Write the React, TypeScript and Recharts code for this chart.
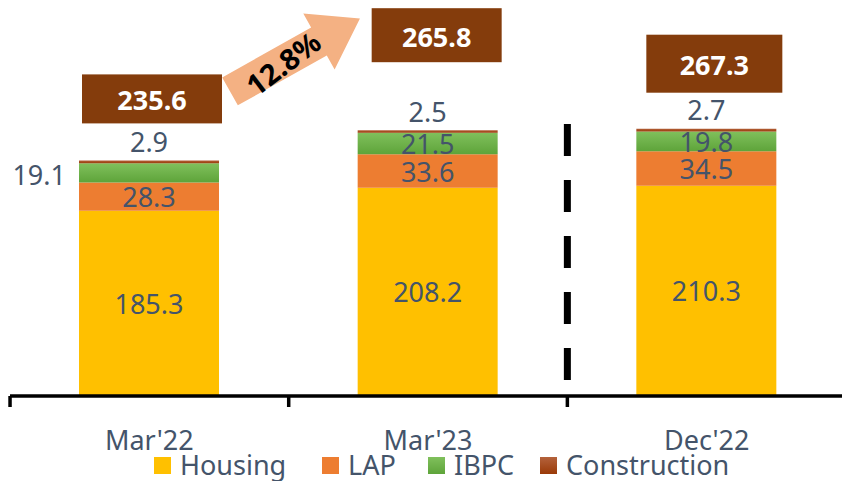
import React from "react";
import { BarChart, Bar, XAxis, YAxis, LabelList, Legend, ReferenceLine } from "recharts";

if (typeof document !== "undefined") {
  document.body.style.margin = "0";
}

const categories = ["Mar'22", "Mar'23", "Dec'22"];
const housing = [185.3, 208.2, 210.3];
const lap = [28.3, 33.6, 34.5];
const ibpc = [19.1, 21.5, 19.8];
const construction = [2.9, 2.5, 2.7];
const totals = [235.6, 265.8, 267.3];
const growthLabel = "12.8%";
const seriesNames = ["Housing", "LAP", "IBPC", "Construction"];

const data = categories.map((c, i) => ({
  name: c,
  housing: housing[i],
  lap: lap[i],
  ibpc: ibpc[i],
  construction: construction[i],
  total: totals[i],
}));

const FONT = "'Noto Sans', 'Open Sans', sans-serif";
const TEXT = "#44546A";
const BOX = "#843C0C";
const FS = 27;

// box placement styles per category (relative to bar top)
const boxStyle = [
  { dx: 3, gap: 37, w: 140, h: 49 },
  { dx: 9, gap: 68, w: 130, h: 54 },
  { dx: 8, gap: 36, w: 136, h: 58 },
];

const ConstructionLabel = (props: any) => {
  const { x, y, width, index, value } = props;
  const cx = x + width / 2;
  const s = boxStyle[index];
  const bx = cx + s.dx - s.w / 2;
  const by = y - s.gap - s.h;
  return (
    <g>
      <text x={cx} y={y - 19} textAnchor="middle" dominantBaseline="central" fill={TEXT} fontSize={FS} fontFamily={FONT}>
        {value}
      </text>
      <rect x={bx} y={by} width={s.w} height={s.h} fill={BOX} />
      <text x={bx + s.w / 2} y={by + s.h / 2 + 1} textAnchor="middle" dominantBaseline="central" fill="#fff" fontSize={FS} fontWeight={700} fontFamily={FONT}>
        {totals[index]}
      </text>
      {index === 0 && (
        <g transform={`translate(${bx + s.w + 8},${by + 17}) rotate(-29.3)`}>
          <polygon points="0,-16 102,-16 102,-32 149,0 102,32 102,16 0,16" fill="#F4B183" />
          <text
            x={60}
            y={1}
            transform="rotate(-8 60 1)"
            textAnchor="middle"
            dominantBaseline="central"
            fill="#000"
            fontSize={29}
            fontWeight={700}
            fontFamily={FONT}
          >
            {growthLabel}
          </text>
        </g>
      )}
    </g>
  );
};

const IbpcLabel = (props: any) => {
  const { x, y, width, height, index, value } = props;
  const cy = y + height / 2;
  if (index === 0) {
    return (
      <text x={x - 13} y={cy + 2} textAnchor="end" dominantBaseline="central" fill={TEXT} fontSize={FS} fontFamily={FONT}>
        {value}
      </text>
    );
  }
  return (
    <text x={x + width / 2} y={cy} textAnchor="middle" dominantBaseline="central" fill={TEXT} fontSize={FS} fontFamily={FONT}>
      {value}
    </text>
  );
};

const CenterLabel = (props: any) => {
  const { x, y, width, height, value } = props;
  return (
    <text x={x + width / 2} y={y + height / 2} textAnchor="middle" dominantBaseline="central" fill={TEXT} fontSize={FS} fontFamily={FONT}>
      {value}
    </text>
  );
};

const HALF_BAND = 139.3;

const AxisTick = (props: any) => {
  const { x, y, payload } = props;
  return (
    <g>
      <line x1={x - HALF_BAND} x2={x - HALF_BAND} y1={y} y2={y + 11} stroke="#000" strokeWidth={3.5} />
      <text x={x} y={y + 43} textAnchor="middle" dominantBaseline="central" fill={TEXT} fontSize={FS} fontFamily={FONT}>
        {payload.value}
      </text>
    </g>
  );
};

const legendColors = ["#FFC000", "#ED7D31", "url(#gIbpc)", "url(#gCons)"];
const legendSwatch = [
  "#FFC000",
  "#ED7D31",
  "linear-gradient(#80C05C, #5EA43A)",
  "linear-gradient(#B4623C, #9A3A08)",
];
const legendLeft = [154, 322, 428, 540];

const LegendContent = () => (
  <div style={{ position: "relative", height: 35, fontFamily: FONT, fontSize: FS, color: TEXT }}>
    {seriesNames.map((n, i) => (
      <div
        key={n}
        style={{ position: "absolute", left: legendLeft[i], top: 4, display: "flex", alignItems: "center", whiteSpace: "nowrap" }}
      >
        <span style={{ display: "inline-block", width: 17, height: 17, background: legendSwatch[i], marginRight: 9 }} />
        <span style={{ lineHeight: "30px" }}>{n}</span>
      </div>
    ))}
  </div>
);

const DashShape = (p: any) => (
  <line x1={p.x1 - HALF_BAND} x2={p.x2 - HALF_BAND} y1={p.y1} y2={p.y2} stroke="#000" strokeWidth={7} strokeDasharray="32 24" />
);

export default function App() {
  return (
    <BarChart
      width={842}
      height={481}
      data={data}
      margin={{ top: 6, right: -4, left: 10, bottom: 0 }}
      barCategoryGap={0}
    >
      <defs>
        <linearGradient id="gIbpc" x1="0" y1="0" x2="0" y2="1">
          <stop offset="0%" stopColor="#80C05C" />
          <stop offset="100%" stopColor="#5EA43A" />
        </linearGradient>
        <linearGradient id="gCons" x1="0" y1="0" x2="0" y2="1">
          <stop offset="0%" stopColor="#B4623C" />
          <stop offset="100%" stopColor="#9A3A08" />
        </linearGradient>
      </defs>
      <XAxis
        dataKey="name"
        height={50}
        axisLine={{ stroke: "#000", strokeWidth: 3.5 }}
        tickLine={false}
        tickSize={0}
        tickMargin={0}
        interval={0}
        tick={<AxisTick />}
      />
      <YAxis hide domain={[0, 390]} type="number" allowDataOverflow />
      <Legend
        verticalAlign="bottom"
        height={35}
        content={<LegendContent />}
        wrapperStyle={{ left: 0, width: 842 }}
      />
      <Bar dataKey="housing" name="Housing" stackId="a" fill={legendColors[0]} barSize={140} isAnimationActive={false}>
        <LabelList dataKey="housing" content={<CenterLabel />} />
      </Bar>
      <Bar dataKey="lap" name="LAP" stackId="a" fill={legendColors[1]} barSize={140} isAnimationActive={false}>
        <LabelList dataKey="lap" content={<CenterLabel />} />
      </Bar>
      <Bar dataKey="ibpc" name="IBPC" stackId="a" fill={legendColors[2]} barSize={140} isAnimationActive={false}>
        <LabelList dataKey="ibpc" content={<IbpcLabel />} />
      </Bar>
      <Bar dataKey="construction" name="Construction" stackId="a" fill={legendColors[3]} barSize={140} isAnimationActive={false}>
        <LabelList dataKey="construction" content={<ConstructionLabel />} />
      </Bar>
      <ReferenceLine
        segment={[{ x: "Dec'22", y: 272 }, { x: "Dec'22", y: 16 }]}
        shape={<DashShape />}
      />
    </BarChart>
  );
}
